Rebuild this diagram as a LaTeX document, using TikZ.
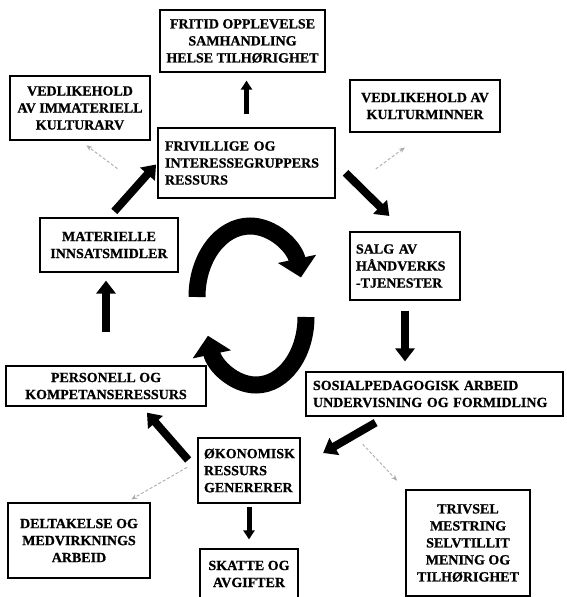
\documentclass[tikz,border=0pt]{standalone}
\usepackage{fontspec}
\setmainfont{Liberation Serif}[BoldFeatures={FakeBold=0.8}]
\usetikzlibrary{arrows,arrows.meta}

\begin{document}
\begin{tikzpicture}[x=1pt,y=1pt,semithick]
\tikzstyle{every node}=[font=\fontsize{14}{17}\selectfont\bfseries]
\tikzstyle{boks}=[draw,rectangle,line width=1.2pt,inner sep=0pt,align=center]
\tikzstyle{vboks}=[boks,align=left]
\tikzstyle{tykk}=[line width=8pt,-{Triangle[length=13pt,width=19pt]}]
\tikzstyle{smal}=[line width=5pt,-{Triangle[length=9pt,width=11pt]}]
\tikzstyle{svak}=[gray!65,densely dashed,line width=0.9pt,-{Stealth[length=6pt,width=5pt]}]
\tikzstyle{ring}=[line width=17pt,-{Triangle[length=19pt,width=38pt]}]

\useasboundingbox (0,0) rectangle (566,-597);

% utfall rundt kanten
\node[boks,minimum width=165pt,minimum height=62pt] (fritid) at (242.5,-41) {FRITID OPPLEVELSE\\SAMHANDLING\\HELSE TILHØRIGHET};
\node[boks,minimum width=140pt,minimum height=64pt] (immateriell) at (80,-108) {VEDLIKEHOLD\\AV IMMATERIELL\\KULTURARV};
\node[boks,minimum width=150pt,minimum height=52pt] (kulturminner) at (425,-106) {VEDLIKEHOLD AV\\KULTURMINNER};
\node[boks,minimum width=142pt,minimum height=75pt] (deltakelse) at (79,-540.5) {DELTAKELSE OG\\MEDVIRKNINGS\\ARBEID};
\node[boks,minimum width=98pt,minimum height=50pt] (skatt) at (249,-574) {SKATTE OG\\AVGIFTER};
\node[boks,minimum width=124pt,minimum height=106pt] (trivsel) at (468,-543) {TRIVSEL\\MESTRING\\SELVTILLIT\\MENING OG\\TILHØRIGHET};

% ressurser i kretsløpet
\node[vboks,minimum width=177pt,minimum height=70pt,text width=163pt] (frivillig) at (246.5,-163) {FRIVILLIGE OG\\INTERESSEGRUPPERS\\RESSURS};
\node[boks,minimum width=138pt,minimum height=54pt] (materiell) at (109,-245) {MATERIELLE\\INNSATSMIDLER};
\node[vboks,minimum width=110pt,minimum height=68pt,text width=98pt] (salg) at (405,-266) {SALG AV\\HÅNDVERKS\\-TJENESTER};
\node[boks,minimum width=200pt,minimum height=40pt] (personell) at (106,-386) {PERSONELL OG\\KOMPETANSERESSURS};
\node[vboks,minimum width=257pt,minimum height=44pt,text width=243pt] (sosial) at (434.5,-394) {SOSIALPEDAGOGISK ARBEID\\UNDERVISNING OG FORMIDLING};
\node[vboks,minimum width=102pt,minimum height=65pt,text width=90pt] (okonomi) at (249,-470.5) {ØKONOMISK\\RESSURS\\GENERERER};

% sirkelpiler i midten
\draw[ring] (197,-297) arc[start angle=180,end angle=16,x radius=53,y radius=71];
\draw[ring] (306,-317) arc[start angle=0,end angle=-164,x radius=50,y radius=68];

% tykke piler
\draw[tykk,shorten <=8pt,shorten >=2pt] (materiell.north) -- (frivillig.west);
\draw[tykk,shorten <=14pt,shorten >=22pt] (frivillig.east) -- (salg.north);
\draw[tykk,shorten <=10pt,shorten >=10pt] (salg.south) -- (salg.south |- sosial.north);
\draw[tykk,shorten <=12pt,shorten >=26pt] (sosial.205) -- (okonomi.5);
\draw[tykk,shorten <=14pt,shorten >=8pt] (okonomi.west) -- (personell.-30);
\draw[tykk,shorten <=33pt,shorten >=8pt] (personell.north) -- (personell.north |- materiell.south);
\draw[smal,shorten <=13pt,shorten >=8pt] (frivillig.north) -- (frivillig.north |- fritid.south);
\draw[smal,shorten <=3pt,shorten >=9pt] (okonomi.south) -- (okonomi.south |- skatt.north);

% svake piler
\draw[svak,shorten <=50pt,shorten >=8pt] (frivillig.south west) -- (immateriell.south);
\draw[svak,shorten <=50pt,shorten >=25pt] (frivillig.south east) -- (kulturminner.south);
\draw[svak,shorten <=12pt,shorten >=6pt] (okonomi.170) -- (deltakelse.39);
\draw[svak,shorten <=38pt,shorten >=12pt] (sosial.193) -- (trivsel.north west);
\end{tikzpicture}
\end{document}
